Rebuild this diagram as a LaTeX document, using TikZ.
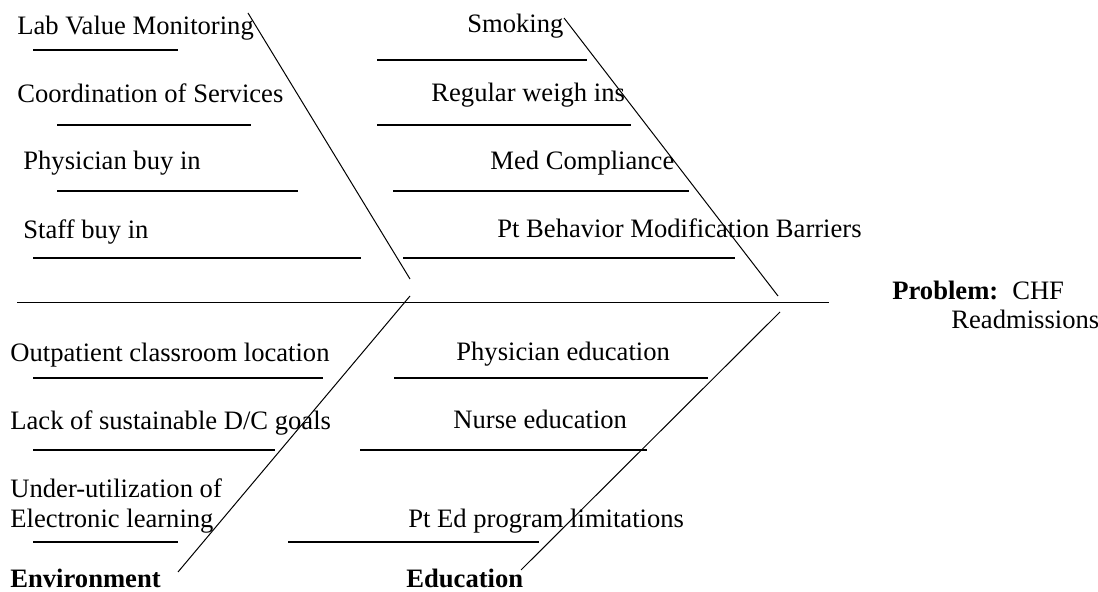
\documentclass[tikz,border=0pt]{standalone}
\usepackage{fontspec}
\setmainfont{Liberation Serif}
\usepackage{tikz}

\begin{document}
\begin{tikzpicture}[x=0.5pt, y=-0.5pt,
  every node/.style={anchor=base west, inner sep=0, font=\fontsize{13.3}{15}\selectfont},
  cause/.style={align=left},
  group/.style={font=\fontsize{13.3}{15}\selectfont\bfseries},
  bone/.style={line width=0.5pt},
  stroke/.style={line width=0.8pt}]

  \useasboundingbox (0,0) rectangle (1098,592);

  % Spine and bones
  \coordinate (spineL) at (17,303);
  \coordinate (spineR) at (829,303);
  \coordinate (manTop) at (248,13);
  \coordinate (manEnd) at (410,279);
  \coordinate (ptTop) at (564,18);
  \coordinate (ptEnd) at (778,296);
  \coordinate (envTop) at (410,296);
  \coordinate (envEnd) at (178,572);
  \coordinate (eduTop) at (780,312);
  \coordinate (eduEnd) at (521,570);
  \draw[bone] (spineL) -- (spineR);
  \draw[bone] (manTop) -- (manEnd);
  \draw[bone] (ptTop) -- (ptEnd);
  \draw[bone] (envTop) -- (envEnd);
  \draw[bone] (eduTop) -- (eduEnd);

  % Underlines
  \foreach \xa/\xb/\yy in {33/178/50, 57/251/125, 57/298/191, 33/361/258,
      377/587/60, 377/631/125, 393/689/191, 403/735/258,
      33/323/378, 33/275/450, 33/178/542,
      394/708/378, 360/647/450, 288/539/542}
    \draw[stroke] (\xa,\yy) -- (\xb,\yy);

  % Upper left causes
  \node (lab) at (17,35) {Lab Value Monitoring};
  \node (coord) at (17,103) {Coordination of Services};
  \node (physbuy) at (23,170) {Physician buy in};
  \node (staffbuy) at (23,239) {Staff buy in};

  % Upper right causes
  \node (smoking) at (467,33) {Smoking};
  \node (weigh) at (431,102) {Regular weigh ins};
  \node (med) at (490,170) {Med Compliance};
  \node (behav) at (497,238) {Pt Behavior Modification Barriers};

  % Lower left causes
  \node (outpt) at (10,362) {Outpatient classroom location};
  \node (goals) at (10,430) {Lack of sustainable D/C goals};
  \node[cause] (elearn) at (10,528) {Under-utilization of\\Electronic learning};

  % Lower right causes
  \node (physed) at (456,361) {Physician education};
  \node (nurseed) at (453,429) {Nurse education};
  \node (pted) at (408,528) {Pt Ed program limitations};

  % Group labels and problem
  \node[group] (env) at (10,588) {Environment};
  \node[group] (edu) at (406,588) {Education};
  \node (problem) at (892,300) {\textbf{Problem:}\hspace{7pt}CHF};
  \node (readm) at (951,329) {Readmissions};
\end{tikzpicture}
\end{document}
